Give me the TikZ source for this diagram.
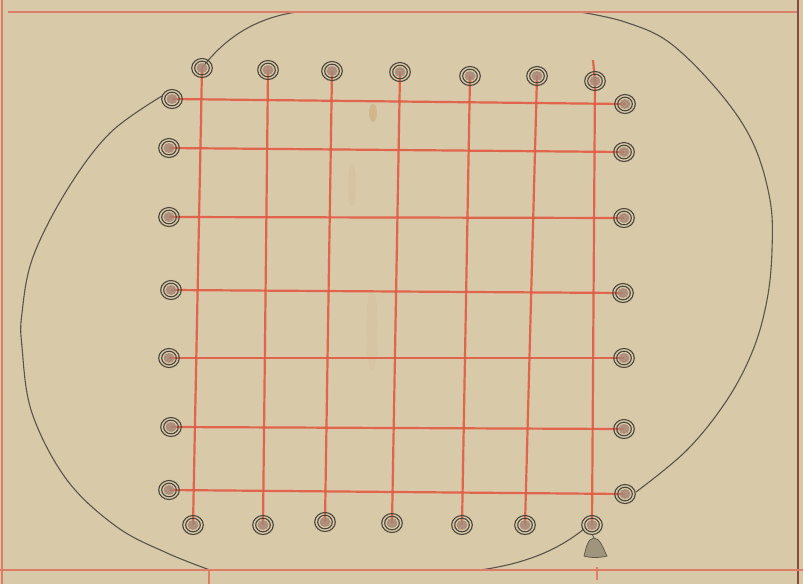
\documentclass[tikz,border=0pt]{standalone}
\usetikzlibrary{calc}
\definecolor{parch}{HTML}{D8C9A9}
\definecolor{gridred}{HTML}{E35A44}
\definecolor{borderred}{HTML}{DE7D68}
\definecolor{pencil}{HTML}{5A5548}
\definecolor{ringink}{HTML}{4A463A}
\definecolor{ringfill}{HTML}{A88676}
\tikzset{
  gridline/.style={draw=gridred, line width=2.2pt, opacity=0.9},
  borderline/.style={draw=borderred, line width=1.6pt},
  outline/.style={draw=pencil, line width=1.1pt},
  ring/.pic={
    \fill[ringfill, opacity=0.85] (0,0) ellipse [x radius=5.5pt, y radius=5pt];
    \draw[ringink, line width=1.1pt] (0,0) ellipse [x radius=7.3pt, y radius=6.8pt];
    \draw[ringink, line width=1.1pt] (0,0) ellipse [x radius=10.3pt, y radius=9.5pt];
  }
}
\begin{document}
\begin{tikzpicture}[x=1pt,y=-1pt]
\useasboundingbox (0,0) rectangle (803,584);
\fill[parch] (0,0) rectangle (803,584);
% faint stains
\fill[brown!60!parch, opacity=0.45] (373,113) ellipse [x radius=4pt, y radius=9pt];
\fill[brown!40!parch, opacity=0.2] (352,185) ellipse [x radius=4pt, y radius=22pt];
\fill[brown!40!parch, opacity=0.15] (372,330) ellipse [x radius=6pt, y radius=40pt];

% ring positions
\foreach \n/\x/\y in {1/202/68, 2/268/70, 3/332/71, 4/400/72, 5/470/76, 6/537/76, 7/595/81}
  \coordinate (t\n) at (\x,\y);
\foreach \n/\x/\y in {1/193/525, 2/263/525, 3/325/522, 4/392/523, 5/462/525, 6/525/525, 7/592/525}
  \coordinate (b\n) at (\x,\y);
\foreach \n/\x/\y in {1/172/99, 2/169/148, 3/169/217, 4/171/290, 5/169/358, 6/171/427, 7/169/490}
  \coordinate (l\n) at (\x,\y);
\foreach \n/\x/\y in {1/625/104, 2/624/152, 3/624/218, 4/623/293, 5/624/358, 6/624/429, 7/625/494}
  \coordinate (r\n) at (\x,\y);
\coordinate (t7top) at (593,60);
\coordinate (belltop) at (594,538);

% outer pencil outline
\draw[outline] (t1) .. controls (225,38) and (255,18) .. (297,12)
  -- (580,12)
  plot[smooth, tension=0.6] coordinates {(580,12) (625,22) (670,43) (720,93) (753,143) (770,200) (772,250) (767,300) (753,350) (727,400) (687,450) (636,492)};
\draw[outline] plot[smooth, tension=0.6] coordinates {(162,96) (110,133) (67,190) (33,257) (22,313) (22,347) (32,413) (67,480) (117,527) (167,553) (210,570)};
\draw[outline] (210,570) -- (480,570) .. controls (530,563) and (560,548) .. (584,529);

% ruled border
\draw[borderline] (8,12) -- (798,12);
\draw[borderline] (2,0) -- (2,584);
\draw[draw=borderred!60!black, line width=1.2pt] (798,0) -- (798,584);
\draw[borderline] (0,570) -- (803,570);
\draw[borderline] (209,570) -- (209,584);
\draw[borderline] (597,567) -- (597,580);

% grid
\foreach \n in {1,...,7} {
  \draw[gridline] (t\n) -- (b\n);
  \draw[gridline] (l\n) -- (r\n);
}
\draw[gridline] (t7top) -- (t7);

% rings
\foreach \n in {1,...,7} {
  \pic at (t\n) {ring};
  \pic at (b\n) {ring};
  \pic at (l\n) {ring};
  \pic at (r\n) {ring};
}

% small bell-shaped weight under the last ring
\draw[pencil, line width=0.8pt] (b7) ++(0,9) -- (belltop);
\filldraw[draw=pencil, fill=pencil!45!parch, line width=0.7pt]
  (584,556) .. controls (586,548) and (588,538) .. (belltop)
  .. controls (600,538) and (603,548) .. (607,556)
  .. controls (600,558) and (590,558) .. cycle;
\end{tikzpicture}
\end{document}
